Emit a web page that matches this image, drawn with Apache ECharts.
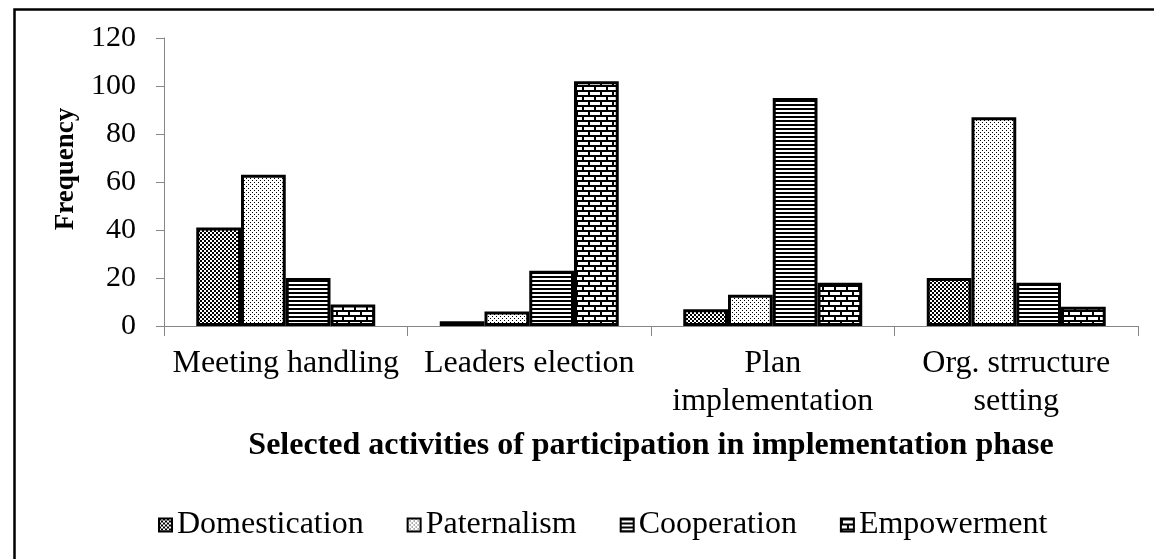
<!DOCTYPE html>
<html><head><meta charset="utf-8">
<script src="https://cdn.jsdelivr.net/npm/echarts@6/dist/echarts.min.js"></script>
<style>html,body{margin:0;padding:0;background:#fff}#c{width:1154px;height:559px}</style>
</head><body><div id="c"></div>
<script>
const categories = ['Meeting handling', 'Leaders election', 'Plan\nimplementation', 'Org. strructure\nsetting'];
const seriesNames = ['Domestication', 'Paternalism', 'Cooperation', 'Empowerment'];
const domestication = [41, 2, 7, 20];
const paternalism = [63, 6, 13, 87];
const cooperation = [20, 23, 95, 18];
const empowerment = [9, 102, 18, 8];
const yMin = 0, yMax = 120, yInterval = 20;
const xTitle = 'Selected activities of participation in implementation phase';
const yTitle = 'Frequency';

function makePattern(w, h, draw) {
  const c = document.createElement('canvas');
  c.width = w; c.height = h;
  const g = c.getContext('2d');
  g.fillStyle = '#fff'; g.fillRect(0, 0, w, h);
  g.fillStyle = '#000';
  draw(g);
  return { image: c, repeat: 'repeat' };
}
const patChecker = makePattern(4, 4, g => { g.fillRect(0, 0, 2, 2); g.fillRect(2, 2, 2, 2); });
const patDots = makePattern(4, 4, g => { g.fillRect(0, 0, 1, 1); g.fillRect(2, 2, 1, 1); });
const patLines = makePattern(4, 4, g => { g.fillRect(0, 0, 4, 2); });
const patBrick = makePattern(12, 10, g => {
  g.fillRect(0, 0, 12, 2); g.fillRect(0, 5, 12, 2);
  g.fillRect(0, 0, 2, 5); g.fillRect(6, 5, 2, 5);
});
const patterns = [patChecker, patDots, patLines, patBrick];
const values = [domestication, paternalism, cooperation, empowerment];

const FONT = '"Liberation Serif", "Times New Roman", serif';
const chart = echarts.init(document.getElementById('c'), null, { renderer: 'canvas' });
chart.setOption({
  animation: false,
  backgroundColor: '#fff',
  textStyle: { fontFamily: FONT, color: '#000' },
  grid: { left: 164, right: 16, top: 38, bottom: 233, containLabel: false },
  xAxis: {
    type: 'category',
    data: categories,
    axisLine: { show: true, lineStyle: { color: '#868686', width: 1 } },
    axisTick: { show: true, length: 10, lineStyle: { color: '#868686' } },
    axisLabel: { interval: 0, fontFamily: FONT, fontSize: 32, lineHeight: 38, margin: 19, color: '#000' },
    splitLine: { show: false }
  },
  yAxis: {
    type: 'value',
    min: yMin, max: yMax, interval: yInterval,
    axisLine: { show: true, lineStyle: { color: '#868686', width: 1 } },
    axisTick: { show: true, length: 8, lineStyle: { color: '#868686' } },
    axisLabel: { fontFamily: FONT, fontSize: 30, margin: 28, color: '#000' },
    splitLine: { show: false }
  },
  legend: {
    data: seriesNames,
    left: 153, top: 502,
    icon: 'rect',
    itemWidth: 13, itemHeight: 13, itemGap: 43,
    itemStyle: { borderColor: '#000', borderWidth: 2 },
    textStyle: { fontFamily: FONT, fontSize: 32, color: '#000', lineHeight: 36 }
  },
  series: seriesNames.map((n, i) => ({
    name: n,
    type: 'bar',
    data: values[i],
    barGap: '0%',
    barCategoryGap: '26.5%',
    itemStyle: { color: patterns[i], borderColor: '#000', borderWidth: 3 }
  })),
  graphic: [
    { type: 'rect', left: 12, top: 7, shape: { x: 0, y: 0, width: 1200, height: 600 },
      style: { fill: 'none', stroke: '#000', lineWidth: 2.5 }, silent: true },
    { type: 'text', x: 66, y: 169, rotation: Math.PI / 2,
      style: { text: yTitle, font: 'bold 27px ' + FONT, fill: '#000', textAlign: 'center', textVerticalAlign: 'middle', align: 'center', verticalAlign: 'middle' } },
    { type: 'text', x: 651, y: 446,
      style: { text: xTitle, font: 'bold 32px ' + FONT, fill: '#000', textAlign: 'center', textVerticalAlign: 'middle', align: 'center', verticalAlign: 'middle' } }
  ]
});
</script>
</body></html>
